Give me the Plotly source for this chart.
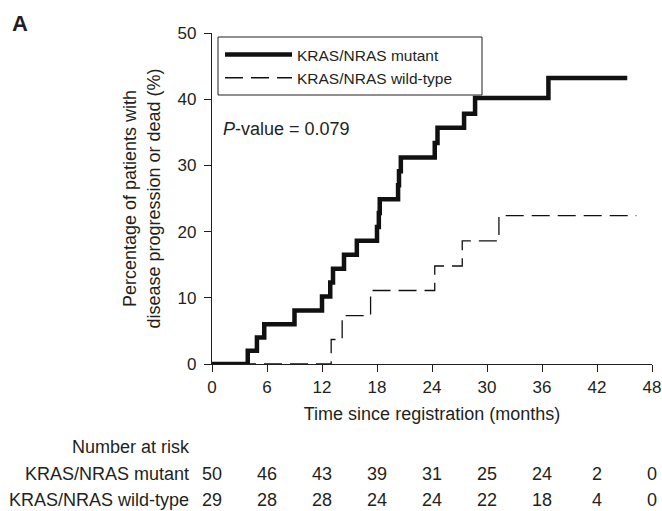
import plotly.graph_objects as go

# ---- data ----
mutant_t = [0, 3.9, 4.9, 5.7, 9.0, 12.0, 12.9, 13.2, 14.4, 15.8, 18.0, 18.2, 18.3,
            20.3, 20.4, 20.6, 24.3, 24.6, 27.5, 28.7, 36.7, 45.3]
mutant_pct = [0, 2.0, 4.0, 6.0, 8.1, 10.2, 12.3, 14.4, 16.5, 18.6, 20.7, 22.8, 24.9,
              27.0, 29.1, 31.2, 33.4, 35.7, 37.8, 40.2, 43.2, 43.2]
wild_t = [0, 13.0, 14.2, 17.3, 24.3, 27.3, 31.3, 46.3]
wild_pct = [0, 3.7, 7.3, 11.1, 14.8, 18.6, 22.4, 22.4]

risk_times = [0, 6, 12, 18, 24, 30, 36, 42, 48]
risk_mutant = [50, 46, 43, 39, 31, 25, 24, 2, 0]
risk_wild = [29, 28, 28, 24, 24, 22, 18, 4, 0]
x_ticks = [0, 6, 12, 18, 24, 30, 36, 42, 48]
y_ticks = [0, 10, 20, 30, 40, 50]

FONT = "Liberation Sans, Arial, sans-serif"
TXT = "#231f20"
W, H = 662, 511
L, R, T, B = 212, 10, 33, 511 - 364
pw = W - L - R
ph = H - T - B

def py(pix):
    # pixel y in the window -> paper coordinate
    return (H - B - pix) / ph

def px(pix):
    return (pix - L) / pw

fig = go.Figure()
fig.add_trace(go.Scatter(x=mutant_t, y=mutant_pct, mode="lines", line_shape="hv",
                         name="KRAS/NRAS mutant",
                         line=dict(color="#111111", width=4.5)))
fig.add_trace(go.Scatter(x=wild_t, y=wild_pct, mode="lines", line_shape="hv",
                         name="KRAS/NRAS wild-type",
                         line=dict(color="#111111", width=1.3, dash="18px,8px")))

fig.update_layout(
    width=W, height=H,
    margin=dict(l=L, r=R, t=T, b=B, autoexpand=False),
    paper_bgcolor="white", plot_bgcolor="white",
    font=dict(family=FONT, color=TXT, size=17),
    showlegend=True,
    legend=dict(x=px(220), y=py(38), xanchor="left", yanchor="top",
                borderwidth=0, bgcolor="rgba(0,0,0,0)",
                font=dict(size=15.5, color=TXT), itemwidth=67,
                tracegroupgap=2),
    shapes=[dict(type="rect", xref="paper", yref="paper",
                 x0=px(218), x1=px(482), y0=py(37), y1=py(95),
                 line=dict(color="#231f20", width=1), fillcolor="white", layer="above")],
    xaxis=dict(range=[0, 48], tickvals=x_ticks, ticks="outside", ticklen=7,
               tickwidth=1.3, tickcolor="#231f20", showline=True, linecolor="#231f20",
               linewidth=1.3, showgrid=False, zeroline=False,
               tickfont=dict(size=17),
               title=dict(text="Time since registration (months)", font=dict(size=18),
                          standoff=11)),
    yaxis=dict(range=[0, 50], tickvals=y_ticks, ticks="outside", ticklen=7,
               tickwidth=1.3, tickcolor="#231f20", showline=True, linecolor="#231f20",
               linewidth=1.3, showgrid=False, zeroline=False,
               tickfont=dict(size=17), ticklabelstandoff=4,
               title=dict(text="Percentage of patients with<br>disease progression or dead (%)",
                          font=dict(size=18), standoff=12)),
)

annos = []
annos.append(dict(text="<b>A</b>", xref="paper", yref="paper", x=px(10), y=py(24),
                  xanchor="left", yanchor="middle", showarrow=False, font=dict(size=22)))
annos.append(dict(text="<i>P</i>-value = 0.079", xref="paper", yref="paper", x=px(221),
                  y=py(129), xanchor="left", yanchor="middle", showarrow=False,
                  font=dict(size=18)))
annos.append(dict(text="Number at risk", xref="paper", yref="paper", x=px(192), y=py(447),
                  xanchor="right", yanchor="middle", showarrow=False, font=dict(size=18)))
annos.append(dict(text="KRAS/NRAS mutant", xref="paper", yref="paper", x=px(191), y=py(474),
                  xanchor="right", yanchor="middle", showarrow=False, font=dict(size=18)))
annos.append(dict(text="KRAS/NRAS wild-type", xref="paper", yref="paper", x=px(191), y=py(500),
                  xanchor="right", yanchor="middle", showarrow=False, font=dict(size=18)))
for t, m, w in zip(risk_times, risk_mutant, risk_wild):
    annos.append(dict(text=str(m), xref="x", yref="paper", x=t, y=py(474),
                      xanchor="center", yanchor="middle", showarrow=False, font=dict(size=18)))
    annos.append(dict(text=str(w), xref="x", yref="paper", x=t, y=py(500),
                      xanchor="center", yanchor="middle", showarrow=False, font=dict(size=18)))
fig.update_layout(annotations=annos)

fig.write_html(
    "out.html",
    config={"displayModeBar": False},
    post_script="document.documentElement.style.overflow='hidden';"
                "document.body.style.margin='0';document.body.style.overflow='hidden';",
)
